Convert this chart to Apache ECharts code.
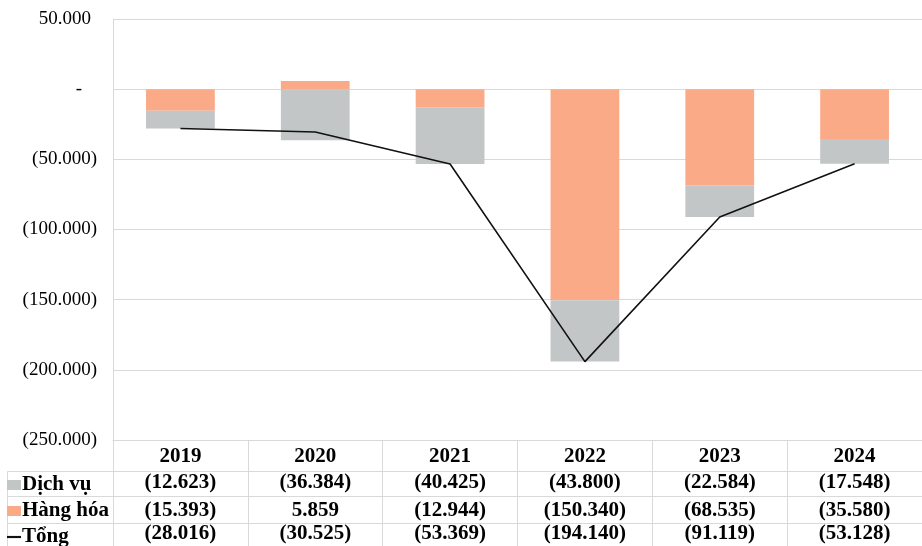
<!DOCTYPE html>
<html>
<head>
<meta charset="utf-8">
<script src="https://cdn.jsdelivr.net/npm/echarts@6/dist/echarts.min.js"></script>
<style>html,body{margin:0;padding:0;background:#fff}#c{width:922px;height:546px}</style>
</head>
<body>
<div id="c"></div>
<script>
var years = ['2019', '2020', '2021', '2022', '2023', '2024'];
var dichVu = [-12623, -36384, -40425, -43800, -22584, -17548];
var hangHoa = [-15393, 5859, -12944, -150340, -68535, -35580];
var tong = [-28016, -30525, -53369, -194140, -91119, -53128];
var yTicks = [50000, 0, -50000, -100000, -150000, -200000, -250000];

function fmtNum(v) {
  if (v === 0) return '-';
  var s = Math.abs(Math.round(v)).toString().replace(/\B(?=(\d{3})+(?!\d))/g, '.');
  return v < 0 ? '(' + s + ')' : s;
}

var FONT = 'Liberation Serif';
var GRID_LEFT = 113, GRID_TOP = 19, GRID_BOTTOM = 106;
var LINE_C = '#d9d9d9';

var chart = echarts.init(document.getElementById('c'), null, {renderer: 'canvas'});

function rowAxis(data, offset, tickLen, margin) {
  return {
    type: 'category',
    data: data,
    position: 'bottom',
    offset: offset,
    axisLine: {show: true, onZero: false, lineStyle: {color: LINE_C, width: 1}},
    axisTick: {show: true, length: tickLen, alignWithLabel: false, lineStyle: {color: LINE_C}},
    axisLabel: {
      interval: 0, margin: margin, verticalAlign: 'middle',
      fontFamily: FONT, fontSize: 21, fontWeight: 'bold', color: '#000'
    },
    splitLine: {show: false}
  };
}

var option = {
  animation: false,
  backgroundColor: '#fff',
  grid: {left: GRID_LEFT, right: 0, top: GRID_TOP, bottom: GRID_BOTTOM, containLabel: false},
  legend: {
    orient: 'vertical',
    left: 7,
    top: 474,
    height: 120,
    padding: 0,
    itemGap: 4,
    itemWidth: 14,
    itemHeight: 10,
    selectedMode: false,
    textStyle: {fontFamily: FONT, fontSize: 21, fontWeight: 'bold', color: '#000', lineHeight: 22, padding: [0, 0, 0, -4]},
    data: [
      {name: 'Dịch vụ', icon: 'rect'},
      {name: 'Hàng hóa', icon: 'rect'},
      {name: 'Tổng', icon: 'path://M0,0H13V2H0Z'}
    ]
  },
  xAxis: [
    {
      type: 'category',
      data: years,
      position: 'bottom',
      axisLine: {show: true, onZero: false, lineStyle: {color: LINE_C, width: 1}},
      axisTick: {show: true, length: 31, alignWithLabel: false, lineStyle: {color: LINE_C}},
      axisLabel: {interval: 0, margin: 17, verticalAlign: 'middle', fontFamily: FONT, fontSize: 21, fontWeight: 'bold', color: '#000'}
    },
    rowAxis(dichVu.map(fmtNum), 31, 25, 12),
    rowAxis(hangHoa.map(fmtNum), 56, 27, 15),
    rowAxis(tong.map(fmtNum), 83, 30, 11)
  ],
  yAxis: {
    type: 'value',
    min: yTicks[yTicks.length - 1],
    max: yTicks[0],
    interval: 50000,
    axisLine: {show: true, lineStyle: {color: LINE_C}},
    axisTick: {show: false},
    splitLine: {show: true, lineStyle: {color: LINE_C, width: 1}},
    axisLabel: {
      margin: 16,
      fontFamily: FONT, fontSize: 19, color: '#000',
      formatter: function (v) {
        if (v === 0) return '{z|-}';
        if (v > 0) return '{p|' + fmtNum(v) + '}';
        return '{n|' + fmtNum(v) + '}';
      },
      rich: {
        z: {fontFamily: FONT, fontSize: 19, color: '#000', padding: [0, 15, 0, 0]},
        p: {fontFamily: FONT, fontSize: 19, color: '#000', padding: [0, 6, 0, 0]},
        n: {fontFamily: FONT, fontSize: 19, color: '#000'}
      }
    }
  },
  series: [
    {
      name: 'Hàng hóa', type: 'bar', stack: 'total', data: hangHoa,
      barWidth: '51%', itemStyle: {color: '#FBAA88'}
    },
    {
      name: 'Dịch vụ', type: 'bar', stack: 'total', data: dichVu,
      barWidth: '51%', itemStyle: {color: '#C2C6C6'}
    },
    {
      name: 'Tổng', type: 'line', data: tong, symbol: 'none',
      lineStyle: {color: '#111', width: 1.6}, itemStyle: {color: '#111'}, z: 5
    }
  ],
  graphic: [
    {type: 'line', shape: {x1: 7.5, y1: 471.5, x2: GRID_LEFT, y2: 471.5}, style: {stroke: LINE_C, lineWidth: 1}},
    {type: 'line', shape: {x1: 7.5, y1: 496.5, x2: GRID_LEFT, y2: 496.5}, style: {stroke: LINE_C, lineWidth: 1}},
    {type: 'line', shape: {x1: 7.5, y1: 523.5, x2: GRID_LEFT, y2: 523.5}, style: {stroke: LINE_C, lineWidth: 1}},
    {type: 'line', shape: {x1: 7.5, y1: 471.5, x2: 7.5, y2: 546}, style: {stroke: LINE_C, lineWidth: 1}}
  ]
};
chart.setOption(option);
</script>
</body>
</html>
